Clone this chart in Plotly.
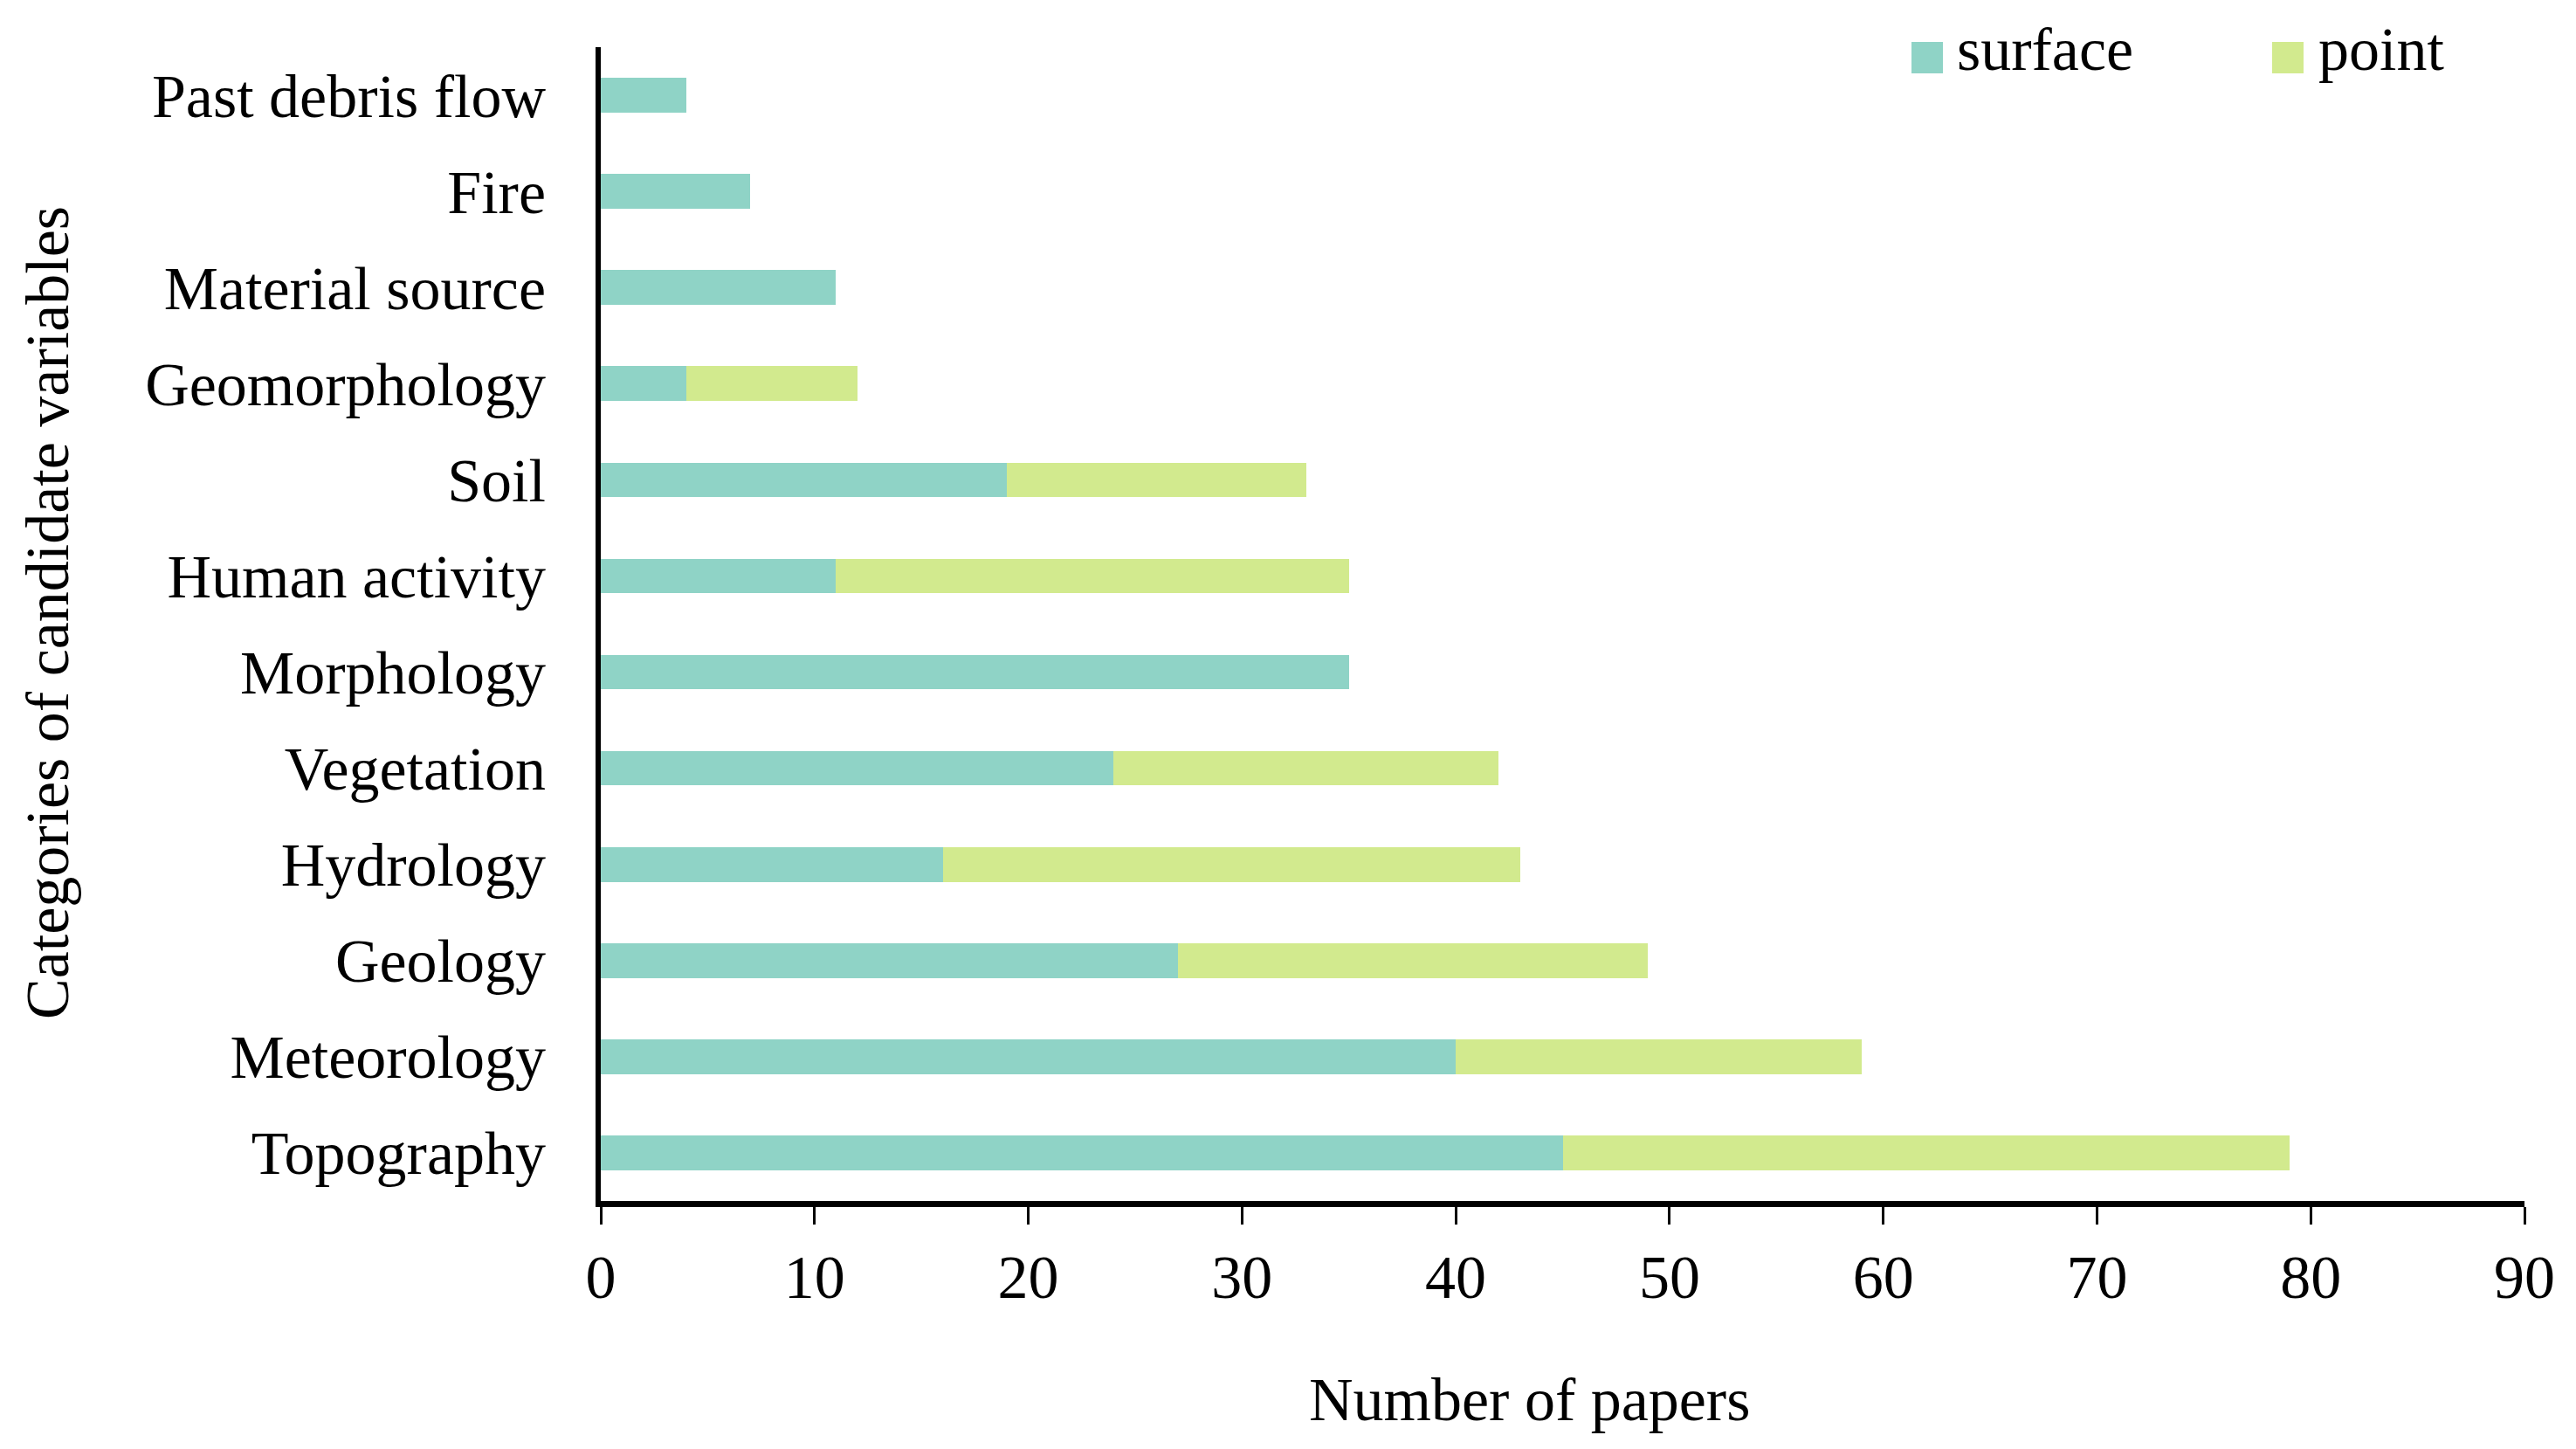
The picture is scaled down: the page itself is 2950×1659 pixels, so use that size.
import plotly.graph_objects as go

categories = ["Topography", "Meteorology", "Geology", "Hydrology", "Vegetation",
              "Morphology", "Human activity", "Soil", "Geomorphology",
              "Material source", "Fire", "Past debris flow"]
surface = [45, 40, 27, 16, 24, 35, 11, 19, 4, 11, 7, 4]
point = [34, 19, 22, 27, 18, 0, 24, 14, 8, 0, 0, 0]
x_ticks = [0, 10, 20, 30, 40, 50, 60, 70, 80, 90]

C_SURF = "#8FD3C6"
C_POINT = "#D2EA8E"
FONT = "Liberation Serif"
FS = 70

W, H = 2950, 1659
L, R, T, B = 680, 67, 46, 292
PW, PH = W - L - R, H - T - B

fig = go.Figure()
fig.add_trace(go.Bar(y=categories, x=surface, orientation="h", name="surface",
                     marker=dict(color=C_SURF, line=dict(width=0)), showlegend=False))
fig.add_trace(go.Bar(y=categories, x=point, orientation="h", name="point",
                     marker=dict(color=C_POINT, line=dict(width=0)), showlegend=False))

fig.update_layout(
    width=W, height=H,
    margin=dict(l=L, r=R, t=T, b=B, autoexpand=False),
    barmode="stack", bargap=0.64,
    paper_bgcolor="white", plot_bgcolor="white",
    font=dict(family=FONT, size=FS, color="black"),
    xaxis=dict(range=[0, 90], tickvals=x_ticks, ticktext=[str(v) for v in x_ticks],
               showgrid=False, zeroline=False, showline=True, linecolor="black",
               linewidth=7, ticks="outside", ticklen=20, tickwidth=3, tickcolor="black",
               ticklabelstandoff=0, tickfont=dict(family=FONT, size=FS, color="black")),
    yaxis=dict(categoryorder="array", categoryarray=categories, range=[-0.5, 11.5],
               showgrid=False, zeroline=False, showline=True, linecolor="black",
               linewidth=6, ticks="", ticklabelstandoff=43,
               tickfont=dict(family=FONT, size=FS, color="black")),
)

def px_x(x):
    return (x - L) / PW

def px_y(y):
    return (H - B - y) / PH

annotations = [
    dict(text="Number of papers", x=px_x(1743), y=px_y(1594), xref="paper", yref="paper",
         xanchor="center", yanchor="middle", showarrow=False,
         font=dict(family=FONT, size=FS, color="black")),
    dict(text="Categories of candidate variables", x=px_x(47), y=px_y(694),
         xref="paper", yref="paper", xanchor="center", yanchor="middle",
         textangle=-90, showarrow=False, font=dict(family=FONT, size=FS, color="black")),
]
shapes = []
legend_items = [("surface", C_SURF, 2181, 2231), ("point", C_POINT, 2594, 2645)]
for name, col, sx, tx in legend_items:
    shapes.append(dict(type="rect", xref="paper", yref="paper",
                       x0=px_x(sx), x1=px_x(sx + 36), y0=px_y(40), y1=px_y(76),
                       fillcolor=col, line=dict(width=0)))
    annotations.append(dict(text=name, x=px_x(tx), y=px_y(48), xref="paper", yref="paper",
                            xanchor="left", yanchor="middle", showarrow=False,
                            font=dict(family=FONT, size=FS, color="black")))
fig.update_layout(annotations=annotations, shapes=shapes)

fig.write_html("out.html")
